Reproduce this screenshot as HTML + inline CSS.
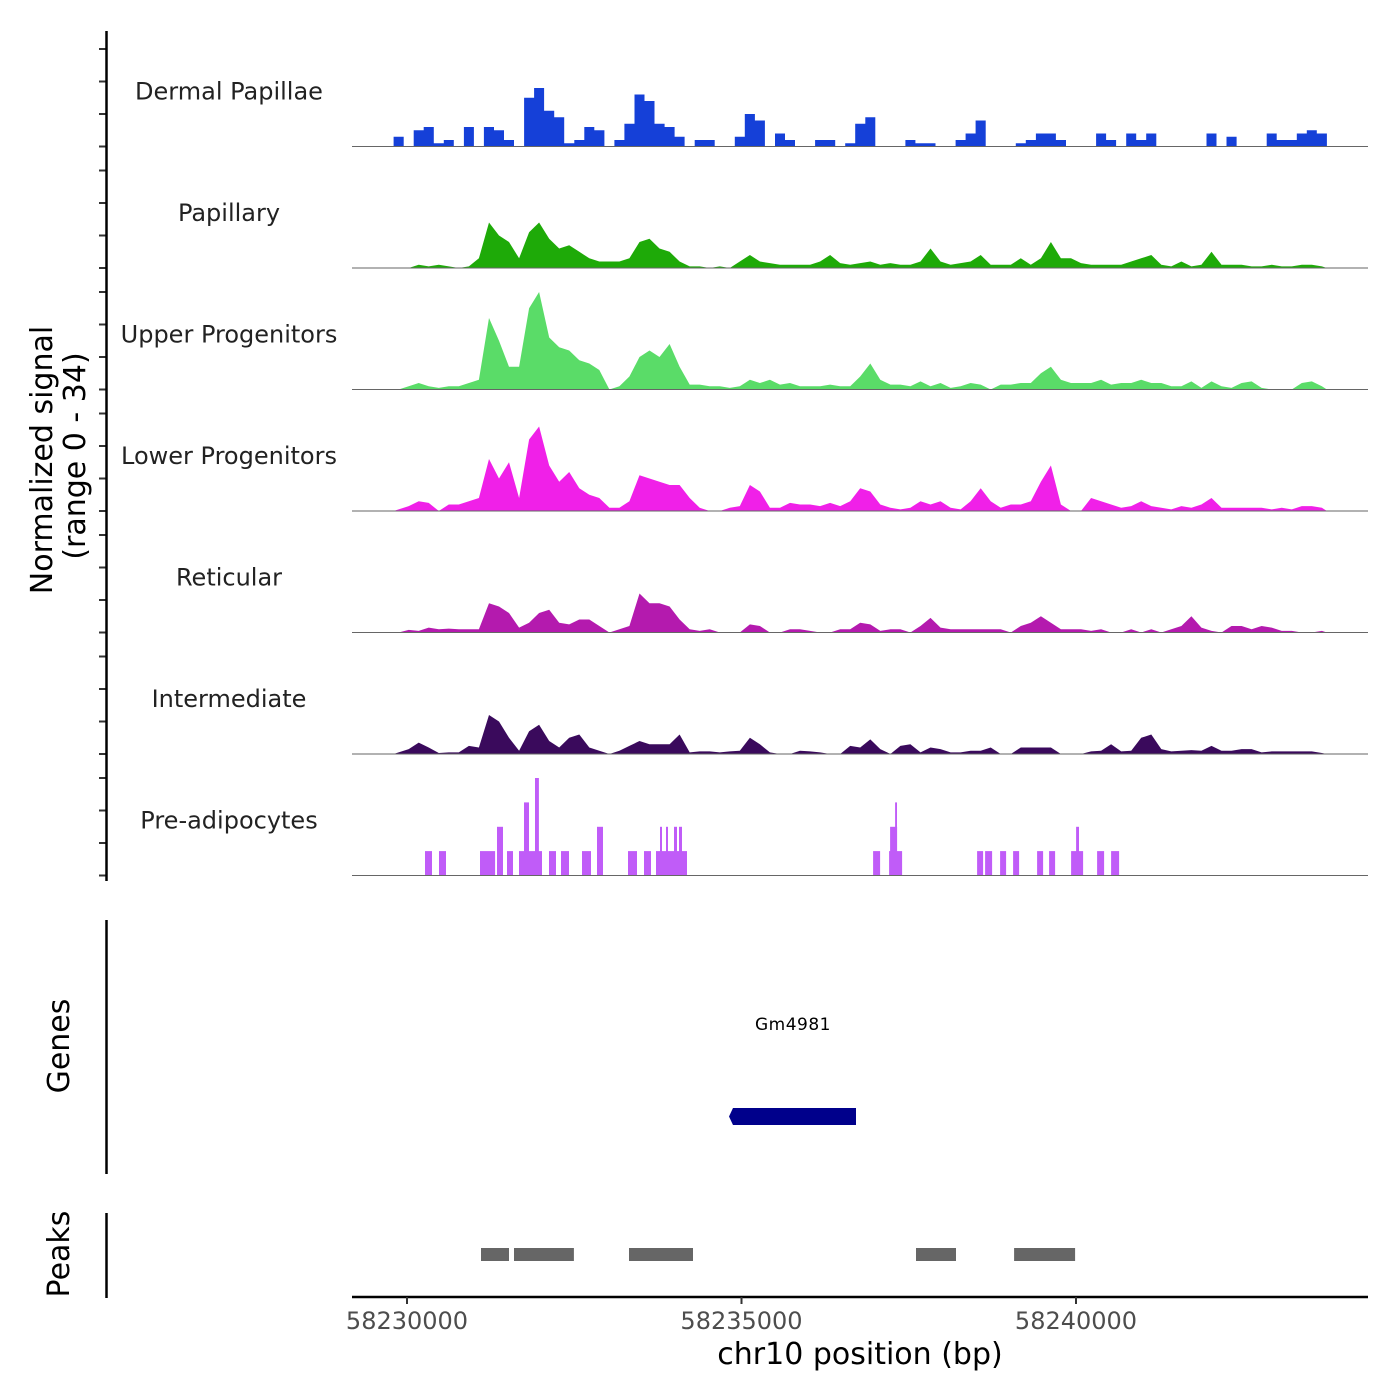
<!DOCTYPE html>
<html><head><meta charset="utf-8">
<style>
html,body{margin:0;padding:0;background:#fff;}
svg{display:block;font-family:"DejaVu Sans","Liberation Sans",sans-serif;}
</style></head>
<body>
<svg id="chart" width="1400" height="1400" viewBox="0 0 1400 1400" xmlns="http://www.w3.org/2000/svg">
<rect x="0" y="0" width="1400" height="1400" fill="#fff"/>
<g id="tracks"></g>
<g id="left-axis"></g>
<text transform="translate(52,460) rotate(-90)" text-anchor="middle" font-size="30" fill="#000">Normalized signal</text>
<text transform="translate(85,456) rotate(-90)" text-anchor="middle" font-size="30" fill="#000">(range 0 - 34)</text>
<line x1="106.5" y1="920" x2="106.5" y2="1174" stroke="#000" stroke-width="2.5"/>
<text transform="translate(69,1046) rotate(-90)" text-anchor="middle" font-size="30" fill="#000">Genes</text>
<text x="793" y="1030" text-anchor="middle" font-size="17" letter-spacing="0.5" fill="#000">Gm4981</text>
<rect x="733" y="1108" width="123" height="17" fill="#00008B"/>
<polygon points="733,1108 729,1116.5 733,1125" fill="#00008B"/>
<line x1="106.5" y1="1213" x2="106.5" y2="1298" stroke="#000" stroke-width="2.5"/>
<text transform="translate(69,1254) rotate(-90)" text-anchor="middle" font-size="30" fill="#000">Peaks</text>
<g id="peaks"></g>
<g id="x-axis"></g>
<text x="860" y="1364" text-anchor="middle" font-size="30" fill="#000">chr10 position (bp)</text>
</svg>
<script>
// ---- data ----
const binStart = 58229800;
const binSize = 150;
const trackNames = ["Dermal Papillae","Papillary","Upper Progenitors","Lower Progenitors","Reticular","Intermediate","Pre-adipocytes"];
const trackColors = ["#1540D8","#1EAA08","#5ADC68","#F020E8","#B41AAE","#3A0A5C","#C05CF8"];
const dermalPapillae = [3,0,5,6,1,2,0,6,0,6,5,2,0,15,18,11,9,1,2,6,5,0,2,7,16,14,7,6,3,0,2,2,0,0,3,10,8,0,4,2,0,0,2,2,0,1,7,9,0,0,0,2,1,1,0,0,2,4,8,0,0,0,1,2,4,4,2,0,0,0,4,2,0,4,2,4,0,0,0,0,0,4,0,3,0,0,0,4,2,2,4,5,4];
const papillary = [0,0,1,0.5,1,0.5,0,0.5,3,14,10,8,3,11,14,9,6,7,5,3,2,2,2,3,8,9,6,5,2,0.5,0.5,0,0.5,0,2,4,2,1.5,1,1,1,1,2,4,1.5,1,1.5,2,1,1.5,1,1,2,6,2,1,1.5,2,4,1,1,1,3,1,3,8,3,3,1.5,1,1,1,1,2,3,4,1,0.5,2,0.5,1,5,1,1,1,0.5,0.5,1,0.5,0.5,1,1,0.5];
const upperProgenitors = [0,1,2,1,0.5,1,1,2,3,22,15,7,7,25,30,16,13,12,9,8,6,0,1,4,10,12,10,14,7,1.5,1.5,1,1,0.5,1,3,2,3,1.5,2,1,1,1,1.5,1,1,4,8,3,1.5,1.5,1,2.5,1,2,0.5,1,2,1.5,0,1.5,1.5,2,2,5,7,3,2,2,2,3,1.5,2,2,3,2,2,1,1,2.5,0.5,2.5,1,0.5,2,2.5,0.5,0,0,0,2,2.5,1];
const lowerProgenitors = [0.5,1.5,3,2.5,0,2,2,3,4,16,10,15,4,22,26,14,9,12,7,5,4,1,1,3,11,10,9,8,8,4,1,0,0,1,1.5,8,6,1,1,2.5,2,2,1.5,2.5,1.5,3,7,6,2,1,0.5,1,3,2,3,1,0.5,3,7,3,1,2,2,3,9,14,2,0,0,4,3,2,1,1.5,3,1.5,1,0.5,1.5,1,2,4,1,1,1,1,1,0.5,1,0.5,1.5,1.5,1];
const reticular = [0,0.8,0.5,1.5,1,1.2,1,1,1,9,8,6,1.5,3,6,7,3,2.5,4,4,2,0,1,2,12,9,9,8,4,1,0.5,1,0,0,0,2.5,2,0,0,1,1,0.5,0,0,1,1,3,2.5,0.5,1,1,0,2,4.5,1.5,1,1,1,1,1,1,0,2,3,5,3,1,1,1,0.5,1,0,0,1,0,1,0,1,2,5,1.5,0.5,0,2,2,1,2,1.5,0.5,0.5,0,0,0.5];
const intermediate = [0.5,1.5,3.5,2,0.3,0.5,0.5,2.5,2,12,10,5,1,7,9,4,2,5,6,2,1,0,1,2.5,4,3,3,3,6,0.5,0.8,0.8,0.5,0.8,1,5,3,0.5,0,0,1,0.8,0.5,0,0,2.5,2,4.5,1.5,0,2.5,3,0.5,2,1.5,0.5,0.5,1,1,2,0,0,2,2,2,2,0,0,0,0.8,1,3,0.8,1,5,6,1.5,0.8,1,1.2,1,2.5,1,1,1.5,1.5,0.5,0.8,0.8,0.8,0.8,0.8,0.3];
// pre-adipocyte coverage segments (bp offsets from 58230000) and heights
const preStarts = [269,478,1091,1346,1495,1674,1749,1914,2123,2302,2616,2840,3304,3543,3722,3782,3872,3991,4066,6967,7206,7221,7296,8521,8641,8865,9060,9418,9598,9927,10002,10316,10525];
const preEnds   = [374,583,1316,1435,1585,2018,1824,1973,2228,2422,2751,2930,3438,3648,4186,3812,3902,4036,4111,7071,7400,7325,7325,8611,8746,8955,9149,9508,9688,10106,10046,10420,10645];
const preHeights= [7.5,7.5,7.5,15,7.5,7.5,22.5,30,7.5,7.5,7.5,15,7.5,7.5,7.5,15,15,15,15,7.5,7.5,15,22.5,7.5,7.5,7.5,7.5,7.5,7.5,7.5,15,7.5,7.5];
const peakStarts = [58231106,58231600,58233319,58237609,58239074];
const peakEnds   = [58231525,58232496,58234276,58238207,58239986];
const xTicks = [58230000,58235000,58240000];
const yTicks = [0,10,20,30];

// ---- scales ----
const X0 = 58230000, PX0 = 407, PXPerBp = 334.5/5000;
function xs(bp){ return PX0 + (bp - X0) * PXPerBp; }
const baseline0 = 146.5, trackSpacing = 121.5, unitPx = 3.25;
function ys(t, v){ return baseline0 + t*trackSpacing - v*unitPx; }

const NS = "http://www.w3.org/2000/svg";
function mk(tag, attrs, parent){ const e=document.createElementNS(NS,tag); for(const k in attrs) e.setAttribute(k, attrs[k]); parent.appendChild(e); return e; }

const tracksG = document.getElementById('tracks');
const axisG = document.getElementById('left-axis');
const series = [dermalPapillae,papillary,upperProgenitors,lowerProgenitors,reticular,intermediate];

trackNames.forEach((name,t)=>{
  const base = ys(t,0);
  const lbl = mk('text',{x:229,y:base-47,'text-anchor':'middle','font-size':24,fill:'#222'},tracksG);
  lbl.textContent = name;
  
  
  if (t < 6){
    const vals = series[t];
    let d = 'M'+xs(binStart).toFixed(1)+','+base;
    vals.forEach((v,i)=>{
      if (t===0){
        const a = xs(binStart+i*binSize), b = xs(binStart+(i+1)*binSize);
        d += ' L'+a.toFixed(1)+','+ys(t,v).toFixed(1)+' L'+b.toFixed(1)+','+ys(t,v).toFixed(1);
      } else {
        const c = xs(binStart+(i+0.5)*binSize);
        d += ' L'+c.toFixed(1)+','+ys(t,v).toFixed(1);
      }
    });
    d += ' L'+xs(binStart+vals.length*binSize).toFixed(1)+','+base+' Z';
    const p = mk('path',{d:d,fill:trackColors[t]},tracksG);
    
    
  } else {
    preStarts.forEach((s,i)=>{
      const a = xs(X0+s), b = xs(X0+preEnds[i]);
      const r = mk('rect',{x:a.toFixed(1),y:ys(t,preHeights[i]).toFixed(1),width:(b-a).toFixed(1),height:(preHeights[i]*unitPx).toFixed(1),fill:trackColors[t]},tracksG);
      
      
    });
  }
  const bl = mk('line',{x1:352,x2:1368,y1:base,y2:base,stroke:'#666','stroke-width':1},tracksG);
  
  
  yTicks.forEach(v=>{
    const tk = mk('line',{x1:99,x2:106,y1:ys(t,v),y2:ys(t,v),stroke:'#333','stroke-width':2},axisG);
    
    
  });
});
const yl = mk('line',{x1:106.5,x2:106.5,y1:31,y2:881,stroke:'#000','stroke-width':2.5},axisG);



const peaksG = document.getElementById('peaks');
peakStarts.forEach((s,i)=>{
  const a = xs(s), b = xs(peakEnds[i]);
  const r = mk('rect',{x:a.toFixed(1),y:1248,width:(b-a).toFixed(1),height:13,fill:'#666'},peaksG);
  
  
});

const xg = document.getElementById('x-axis');
const xl = mk('line',{x1:352,x2:1368,y1:1297,y2:1297,stroke:'#000','stroke-width':2.5},xg);


xTicks.forEach(v=>{
  const tk = mk('line',{x1:xs(v),x2:xs(v),y1:1297,y2:1304,stroke:'#333','stroke-width':2},xg);
  
  
  const tl = mk('text',{x:xs(v),y:1329,'text-anchor':'middle','font-size':24,fill:'#4d4d4d'},xg);
  tl.textContent = String(v);
  
  
});
</script>
</body></html>
